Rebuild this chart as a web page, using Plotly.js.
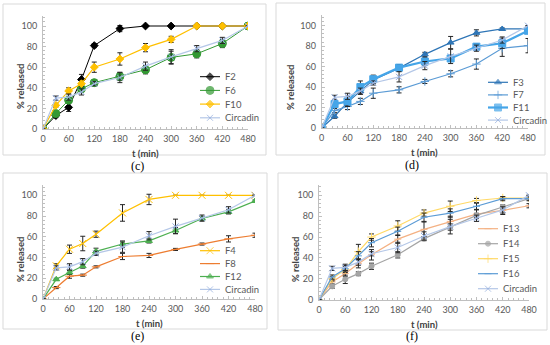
<!DOCTYPE html>
<html><head><meta charset="utf-8">
<script src="https://cdn.plot.ly/plotly-3.0.1.min.js"></script>
<style>html,body{margin:0;padding:0;background:#fff}#chart{width:550px;height:345px}</style>
</head><body><div id="chart"></div>
<script>
// ---- data ----
const t = [0,30,60,90,120,180,240,300,360,420,480];
const circadin = [0,30,31,36,44,50,61,70,78,86,100];
const circadinErr = [0,2,3,3,2,5,4,7,3,3,0];
// panel (c)
const F2 = [0,13,21,48,81,97.5,100,100,100,100,100];
const F2err = [0,2,4,5,2,3,1,0,0,0,0];
const F6 = [0,15,28,39,45,51,57.5,69.5,73,83,100];
const F6err = [0,2,2,3,2,4,4,6,4,4,0];
const F10 = [0,23,37,44,60,68,79,87,100,100,100];
const F10err = [0,2,3,3,5,6,4,3,0,0,0];
// panel (d)
const F3 = [0,11.5,25,36,47,58.5,72,83.5,93,96.8,96.8];
const F3err = [0,2,3,3,3,3,2,6,3,1,2];
const F7 = [0,17,21,26,34,37.3,45.5,53,62.5,78,80.5];
const F7err = [0,2,3,3,5,3,2,3,5,8,7];
const F11 = [0,23.4,26,40,47.7,59,65,68,79.5,82.8,95];
const F11err = [0,3,5,6,4,3,4,3,3,5,2];
// panel (e)
const F4 = [0,32,48,53.5,62.5,83,96,100,100,100,100];
const F4err = [0,2,4,7,3,8,5,0,0,0,0];
const F8 = [0,11,22,23,31,41,42,47.8,53,58,61.5];
const F8err = [0,1,2,1,1,3,2,1,1,3,2];
const F12 = [0,19,25.6,31.7,46,53,56,66,77.6,84,94.5];
const F12err = [0,1,2,2,3,3,2,3,2,2,1];
// panel (f)
const F13 = [0,17,25,34.5,43,58,67.4,75,82,85.6,90];
const F13err = [0,2,3,4,5,4,7,5,4,4,2];
const F14 = [0,12.8,19.5,25,32,43,58.5,69.6,80.8,88.8,96.8];
const F14err = [0,2,4,2,3,3,2,3,2,2,0];
const F15 = [0,20,29,46,60,70.6,83,89.5,95,97.4,97.4];
const F15err = [0,2,3,7,3,5,3,5,2,1,0];
const F16 = [0,21.7,29.7,42,54.6,65.5,79,83,89.5,96.8,96.8];
const F16err = [0,2,3,4,4,4,4,4,3,2,2];

const W = 550, H = 345;
const px = v => v / W, py = v => 1 - v / H;

const panels = [
  {ax:'', cap:'(c)', xd:[43,248], y0:129, y100:26, border:[3,4,266,155], capPos:[137,166], ytitle:[20,87],
   leg:{x:200, y:76.7, dy:13.7},
   series:[
    {name:'F2', y:F2, e:F2err, color:'#000000', sym:'diamond', size:6, w:1},
    {name:'F6', y:F6, e:F6err, color:'#339933', sym:'circle', size:8, w:1},
    {name:'F10', y:F10, e:F10err, color:'#FFC000', sym:'diamond', size:6, w:1.2},
    {name:'Circadin', y:circadin, e:circadinErr, color:'#B4C7E7', mcolor:'#8FAADC', sym:'x-thin-open', size:6, w:1.2}]},
  {ax:'2', cap:'(d)', xd:[321.7,528], y0:128, y100:25.7, border:[276,3,545,155], capPos:[412,165], ytitle:[291,88],
   leg:{x:488, y:82.3, dy:12.6},
   series:[
    {name:'F3', y:F3, e:F3err, color:'#2E75B6', sym:'triangle-up', size:6, w:1.2},
    {name:'F7', y:F7, e:F7err, color:'#5B9BD5', sym:'cross-thin-open', size:6, w:1.2},
    {name:'F11', y:F11, e:F11err, color:'#45A5E8', sym:'square', size:7, w:2.2},
    {name:'Circadin', y:circadin, e:circadinErr, color:'#B4C7E7', mcolor:'#8FAADC', sym:'x-thin-open', size:6, w:1.2}]},
  {ax:'3', cap:'(e)', xd:[43,255], y0:299, y100:195.3, border:[3,173,267,329], capPos:[137,336], ytitle:[20,260],
   leg:{x:200, y:250.7, dy:12.9},
   series:[
    {name:'F4', y:F4, e:F4err, color:'#FFC000', sym:'x-thin-open', size:7, w:1.2},
    {name:'F8', y:F8, e:F8err, color:'#ED7D31', sym:'line-ew-open', size:6, w:1.2},
    {name:'F12', y:F12, e:F12err, color:'#4CAF50', sym:'triangle-up', size:6, w:1.2},
    {name:'Circadin', y:circadin, e:circadinErr, color:'#B4C7E7', mcolor:'#8FAADC', sym:'x-thin-open', size:6, w:1.2}]},
  {ax:'4', cap:'(f)', xd:[319,529], y0:299.7, y100:195.3, border:[278,173,547,330], capPos:[412,336], ytitle:[295,260],
   leg:{x:478, y:228.7, dy:15},
   series:[
    {name:'F13', y:F13, e:F13err, color:'#F4B183', sym:'line-ew-open', size:5, w:1.2},
    {name:'F14', y:F14, e:F14err, color:'#A5A5A5', sym:'circle', size:5, w:1.2},
    {name:'F15', y:F15, e:F15err, color:'#FFD966', sym:'cross-thin-open', size:6, w:1.2},
    {name:'F16', y:F16, e:F16err, color:'#5B9BD5', sym:'line-ew-open', size:5, w:1.2},
    {name:'Circadin', y:circadin, e:circadinErr, color:'#B4C7E7', mcolor:'#8FAADC', sym:'x-thin-open', size:6, w:1.2}]}
];

const font = 'Lato, "Liberation Sans", sans-serif';
const traces = [];
const layout = {
  width: W, height: H, margin:{l:0,r:0,t:0,b:0}, showlegend:false,
  paper_bgcolor:'#fff', plot_bgcolor:'rgba(0,0,0,0)',
  font:{family:font, size:9, color:'#595959'},
  shapes:[], annotations:[],
  xaxis5:{domain:[0,1], range:[0,W], visible:false, fixedrange:true},
  yaxis5:{domain:[0,1], range:[H,0], visible:false, fixedrange:true, anchor:'x5'}
};

panels.forEach(p => {
  const xa = 'xaxis' + p.ax, ya = 'yaxis' + p.ax;
  const pxPerUnit = (p.y0 - p.y100) / 100;
  const yTop = p.y0 - 110 * pxPerUnit;
  const xCenter = (p.xd[0] + p.xd[1]) / 2;
  layout[xa] = {
    domain:[px(p.xd[0]), px(p.xd[1])], range:[0,480], anchor:'y'+p.ax,
    tickvals:[0,60,120,180,240,300,360,420,480], ticks:'inside', ticklen:3, tickcolor:'#bfbfbf',
    showline:true, linecolor:'#bfbfbf', linewidth:1, showgrid:false, zeroline:false,
    tickfont:{family:font, size:9, color:'#595959'}, ticklabelstandoff:1,
    minor:{dtick:12, tick0:0, ticks:'inside', ticklen:2, tickcolor:'#bfbfbf', showgrid:false}
  };
  layout[ya] = {
    domain:[py(p.y0), py(yTop)], range:[0,110], anchor:'x'+p.ax,
    tickvals:[0,20,40,60,80,100], ticks:'inside', ticklen:3, tickcolor:'#bfbfbf',
    showline:true, linecolor:'#bfbfbf', linewidth:1, showgrid:false, zeroline:false,
    tickfont:{family:font, size:9, color:'#595959'}, ticklabelstandoff:3,
    minor:{dtick:4, tick0:0, ticks:'inside', ticklen:2, tickcolor:'#bfbfbf', showgrid:false}
  };
  p.series.forEach((s, i) => {
    traces.push({
      type:'scatter', mode:'lines+markers', x:t, y:s.y, name:s.name,
      xaxis:'x'+p.ax, yaxis:'y'+p.ax,
      line:{color:s.color, width:s.w},
      marker:{symbol:s.sym, size:s.size, color:s.mcolor||s.color, line:{color:s.mcolor||s.color, width:1}},
      error_y:{type:'data', array:s.e, visible:true, color:'#262626', thickness:1, width:2.5}
    });
    // legend glyph
    const ly = p.leg.y + i * p.leg.dy;
    traces.push({
      type:'scatter', mode:'lines+markers', x:[p.leg.x, p.leg.x+10, p.leg.x+20], y:[ly,ly,ly],
      xaxis:'x5', yaxis:'y5', hoverinfo:'skip',
      line:{color:s.color, width:s.w},
      marker:{symbol:s.sym, size:[0,s.size,0], color:s.mcolor||s.color, line:{color:s.mcolor||s.color, width:1}}
    });
    layout.annotations.push({xref:'paper', yref:'paper', x:px(p.leg.x+23), y:py(ly), xanchor:'left', yanchor:'middle',
      text:s.name, showarrow:false, font:{family:font, size:9.5, color:'#595959'}});
  });
  const b = p.border;
  layout.shapes.push({type:'rect', xref:'paper', yref:'paper', x0:px(b[0]), x1:px(b[2]), y0:py(b[3]), y1:py(b[1]),
    line:{color:'#d9d9d9', width:1}});
  layout.annotations.push({xref:'paper', yref:'paper', x:px(p.ytitle[0]), y:py(p.ytitle[1]), textangle:-90,
    xanchor:'center', yanchor:'middle',
    text:'<b>% released</b>', showarrow:false, font:{family:font, size:9.5, color:'#404040'}});
  layout.annotations.push({xref:'paper', yref:'paper', x:px(xCenter), y:py(p.y0 + 24.5), xanchor:'center', yanchor:'middle',
    text:'<b>t (min)</b>', showarrow:false, font:{family:font, size:9.5, color:'#404040'}});
  layout.annotations.push({xref:'paper', yref:'paper', x:px(p.capPos[0]), y:py(p.capPos[1]), xanchor:'center', yanchor:'middle',
    text:p.cap, showarrow:false, font:{family:'"Liberation Serif", serif', size:12, color:'#000'}});
});

Plotly.newPlot('chart', traces, layout, {staticPlot:true, displayModeBar:false});
</script></body></html>
